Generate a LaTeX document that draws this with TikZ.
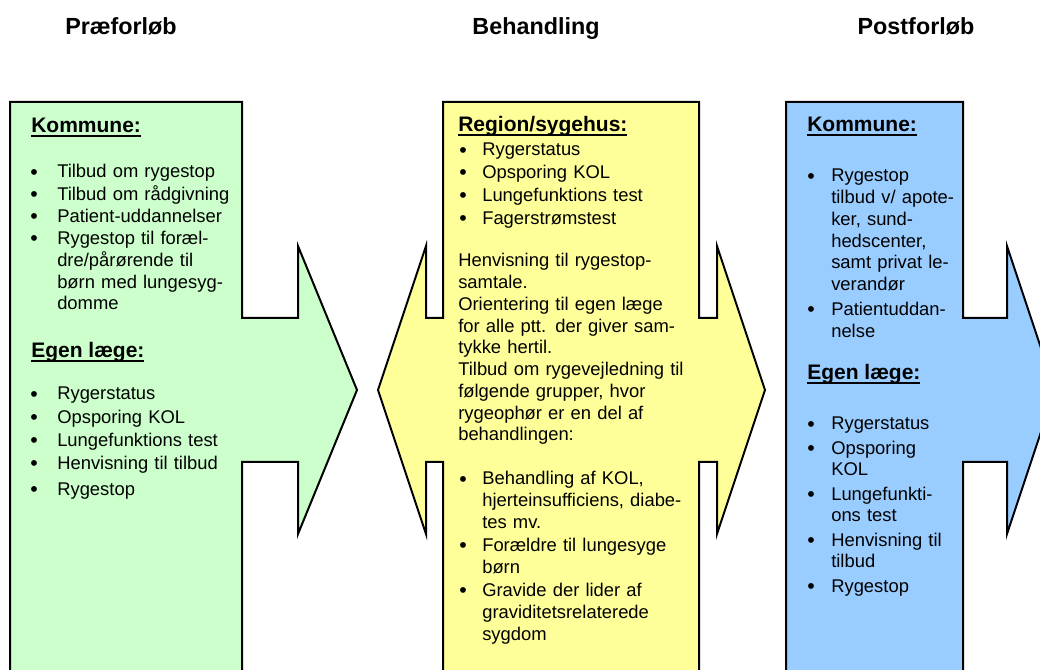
\documentclass[tikz,border=0pt]{standalone}
\usepackage{fontspec}
\setmainfont{Liberation Sans}
\usepackage{xcolor}
\definecolor{vert}{HTML}{CCFFCC}
\definecolor{jaune}{HTML}{FFFF99}
\definecolor{bleu}{HTML}{99CCFF}
\newdimen\pxu \pxu=0.75pt
\newcommand\souligne[1]{\setbox0\hbox{#1}\rlap{\rule[-4\pxu]{\wd0}{2\pxu}}\box0}
\newcommand\etiquette[1]{#1\hfil}
\newcommand\puce{\raisebox{-0.8pt}[0pt][0pt]{\fontsize{16pt}{16pt}\selectfont\textbullet}}
% liste à puces : retrait du texte, écart entre les puces
\newenvironment{puces}[2]{%
  \begin{list}{\puce}{%
    \setlength\leftmargin{#1\pxu}\setlength\labelwidth{#1\pxu}%
    \setlength\labelsep{0pt}\setlength\itemsep{#2\pxu}%
    \setlength\parsep{0pt}\setlength\topsep{0pt}\setlength\partopsep{0pt}%
    \let\makelabel\etiquette}}
  {\end{list}}

\begin{document}
\begin{tikzpicture}[x=0.75pt, y=-0.75pt,
    forme/.style={draw=black, line width=1.5pt, line join=miter},
    phase/.style={anchor=base, inner sep=0pt, font=\fontsize{17.5pt}{21pt}\selectfont\bfseries},
    entete/.style={anchor=base west, inner sep=0pt, font=\fontsize{15.75pt}{19pt}\selectfont\bfseries},
    corps/.style={anchor=base west, inner sep=0pt, text width=200pt,
        font=\fontsize{13.8pt}{16.3pt}\selectfont},
    % la liste commence sous une ligne vide : on remonte d'une ligne
    liste/.style={corps, yshift=16.3pt}]

\useasboundingbox (0,0) rectangle (1040,670);
\clip (0,0) rectangle (1040,670);

% Titres des trois phases
\foreach \x/\nom/\txt in {121/pre/Præforløb, 536/beh/Behandling, 916/post/Postforløb}{
    \node[phase] (\nom) at (\x, 35) {\txt};
}

% Les trois flèches (le bas dépasse de la page)
\filldraw[forme, fill=vert] (10,102) -- (242,102) -- (242,318) -- (298,318) -- (298,246)
    -- (357,390) -- (298,534) -- (298,462) -- (242,462) -- (242,700) -- (10,700) -- cycle;
\filldraw[forme, fill=jaune] (443,102) -- (699,102) -- (699,318) -- (717,318) -- (717,246)
    -- (765,390) -- (717,534) -- (717,462) -- (699,462) -- (699,700) -- (443,700)
    -- (443,462) -- (426,462) -- (426,534) -- (378,390) -- (426,246) -- (426,318)
    -- (443,318) -- cycle;
\filldraw[forme, fill=bleu] (786,102) -- (963,102) -- (963,318) -- (1007,318) -- (1007,246)
    -- (1055,390) -- (1007,534) -- (1007,462) -- (963,462) -- (963,700) -- (786,700) -- cycle;

% Præforløb
\node[entete] (gK) at (31,133) {\souligne{Kommune:}};
\node[liste] (gL1) at (30,178) {\begin{puces}{27}{0.5}
    \item Tilbud om rygestop
    \item Tilbud om rådgivning
    \item Patient-uddannelser
    \item Rygestop til foræl-\newline dre/pårørende til\newline børn med lungesyg-\newline domme
    \end{puces}};
\node[entete] (gE) at (31,358) {\souligne{Egen læge:}};
\node[liste] (gL2) at (30,400) {\begin{puces}{27}{1.5}
    \item Rygerstatus
    \item Opsporing KOL
    \item Lungefunktions test
    \item Henvisning til tilbud\vspace{3\pxu}
    \item Rygestop
    \end{puces}};

% Behandling
\node[entete] (yR) at (458,132) {\souligne{Region/sygehus:}};
\node[liste] (yL1) at (459,156) {\begin{puces}{23}{1}
    \item Rygerstatus
    \item Opsporing KOL
    \item Lungefunktions test
    \item Fagerstrømstest
    \end{puces}};
\node[corps] (yP) at (458,267) {Henvisning til rygestop-\\samtale.\\Orientering til egen læge\\
    for alle ptt. der giver sam-\\tykke hertil.\\Tilbud om rygevejledning til\\
    følgende grupper, hvor\\rygeophør er en del af\\behandlingen:};
\node[liste] (yL2) at (459,485) {\begin{puces}{23}{1.5}
    \item Behandling af KOL,\newline hjerteinsufficiens, diabe-\newline tes mv.
    \item Forældre til lungesyge\newline børn
    \item Gravide der lider af\newline graviditetsrelaterede\newline sygdom
    \end{puces}};

% Postforløb
\node[entete] (bK) at (807,132) {\souligne{Kommune:}};
\node[liste] (bL1) at (807,182) {\begin{puces}{24}{3}
    \item Rygestop\newline tilbud v/ apote-\newline ker, sund-\newline hedscenter,\newline
        samt privat le-\newline verandør
    \item Patientuddan-\newline nelse
    \end{puces}};
\node[entete] (bE) at (807,380) {\souligne{Egen læge:}};
\node[liste] (bL2) at (807,430) {\begin{puces}{24}{2.5}
    \item Rygerstatus
    \item Opsporing\newline KOL
    \item Lungefunkti-\newline ons test
    \item Henvisning til\newline tilbud
    \item Rygestop
    \end{puces}};
\end{tikzpicture}
\end{document}
